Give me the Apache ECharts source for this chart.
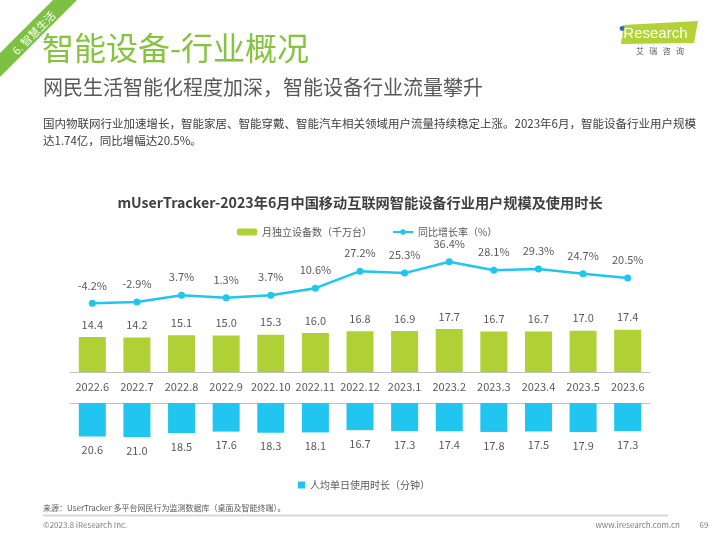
<!DOCTYPE html>
<html>
<head>
<meta charset="utf-8">
<script src="https://cdn.jsdelivr.net/npm/echarts@6/dist/echarts.min.js"></script>
<style>
html,body{margin:0;padding:0;background:#fff;}
#main{width:720px;height:540px;}
</style>
</head>
<body>
<div id="main"></div>
<script>
const categories = ['2022.6','2022.7','2022.8','2022.9','2022.10','2022.11','2022.12','2023.1','2023.2','2023.3','2023.4','2023.5','2023.6'];
const devices = [14.4,14.2,15.1,15.0,15.3,16.0,16.8,16.9,17.7,16.7,16.7,17.0,17.4];
const yoyGrowth = [-4.2,-2.9,3.7,1.3,3.7,10.6,27.2,25.3,36.4,28.1,29.3,24.7,20.5];
const dailyMinutes = [20.6,21.0,18.5,17.6,18.3,18.1,16.7,17.3,17.4,17.8,17.5,17.9,17.3];

const seriesNames = ['月独立设备数（千万台）','同比增长率（%）','人均单日使用时长（分钟）'];

const FONT = "'Noto Sans CJK SC', 'Noto Sans', sans-serif";
const GREEN = '#AFD136';
const CYAN = '#20C5F0';
const LABEL = '#595959';

const chart = echarts.init(document.getElementById('main'), null, {renderer:'canvas'});
const option = {
  backgroundColor: '#fff',
  animation: false,
  textStyle: {fontFamily: FONT},
  title: {
    text: 'mUserTracker-2023年6月中国移动互联网智能设备行业用户规模及使用时长',
    left: 'center', top: 191,
    textStyle: {fontSize: 14.2, fontWeight: 'bold', color: '#404040', fontFamily: FONT}
  },
  legend: [
    {
      data: [seriesNames[0], seriesNames[1]],
      left: 232, top: 222, itemGap: 20, itemWidth: 20, itemHeight: 7,
      textStyle: {fontSize: 10, color: LABEL, fontFamily: FONT}
    },
    {
      data: [{name: seriesNames[2], icon: 'rect'}],
      left: 293, top: 475, itemWidth: 7, itemHeight: 7, itemGap: 4,
      textStyle: {fontSize: 10, color: LABEL, fontFamily: FONT}
    }
  ],
  grid: [
    {left: 70, right: 70, top: 240, height: 132},
    {left: 70, right: 70, top: 403, height: 60}
  ],
  xAxis: [
    {
      type: 'category', gridIndex: 0, data: categories,
      axisLine: {lineStyle: {color: '#BFBFBF', width: 1}},
      axisTick: {show: false},
      axisLabel: {fontSize: 11, color: LABEL, margin: 9, interval: 0, fontFamily: FONT}
    },
    {
      type: 'category', gridIndex: 1, data: categories, position: 'top',
      axisLine: {lineStyle: {color: '#BFBFBF', width: 1}},
      axisTick: {show: false},
      axisLabel: {show: false}
    }
  ],
  yAxis: [
    {type: 'value', gridIndex: 0, min: 0, max: 54.3, show: false, splitLine: {show: false}},
    {type: 'value', gridIndex: 0, min: -71.2, max: 57.6, show: false, splitLine: {show: false}},
    {type: 'value', gridIndex: 1, min: 0, max: 36.9, inverse: true, show: false, splitLine: {show: false}}
  ],
  series: [
    {
      name: seriesNames[0], type: 'bar', xAxisIndex: 0, yAxisIndex: 0,
      data: devices, barWidth: 27, itemStyle: {color: GREEN},
      label: {show: true, position: 'top', distance: 7, fontSize: 11, color: LABEL,
        formatter: p => p.value.toFixed(1)}
    },
    {
      name: seriesNames[1], type: 'line', xAxisIndex: 0, yAxisIndex: 1,
      data: yoyGrowth, z: 5,
      lineStyle: {color: CYAN, width: 2.5},
      itemStyle: {color: CYAN},
      symbol: 'circle', symbolSize: 7,
      label: {show: true, position: 'top', distance: 9, fontSize: 11, color: LABEL,
        formatter: p => p.value.toFixed(1) + '%'}
    },
    {
      name: seriesNames[2], type: 'bar', xAxisIndex: 1, yAxisIndex: 2,
      data: dailyMinutes, barWidth: 27, itemStyle: {color: CYAN},
      label: {show: true, position: 'bottom', distance: 8, fontSize: 11, color: LABEL,
        formatter: p => p.value.toFixed(1)}
    }
  ],
  graphic: [
    {type: 'polygon', shape: {points: [[0,53],[53,0],[77,0],[0,77]]}, style: {fill: '#7DC142'}},
    {type: 'text', x: 34, y: 33, rotation: Math.PI/4, style: {text: '6. 智慧生活', fill: '#fff', fontSize: 11, fontFamily: FONT, align: 'center', verticalAlign: 'middle'}},
    {type: 'text', x: 42, y: 48, style: {text: '智能设备-行业概况', fill: '#86C440', fontSize: 32, fontFamily: FONT, verticalAlign: 'middle'}},
    {type: 'text', x: 43, y: 87, style: {text: '网民生活智能化程度加深，智能设备行业流量攀升', fill: '#595959', fontSize: 20, fontFamily: FONT, verticalAlign: 'middle'}},
    {type: 'text', x: 43, y: 124, style: {text: '国内物联网行业加速增长，智能家居、智能穿戴、智能汽车相关领域用户流量持续稳定上涨。2023年6月，智能设备行业用户规模', fill: '#404040', fontSize: 11.5, fontFamily: FONT, verticalAlign: 'middle'}},
    {type: 'text', x: 43, y: 141, style: {text: '达1.74亿，同比增幅达20.5%。', fill: '#404040', fontSize: 11.5, fontFamily: FONT, verticalAlign: 'middle'}},
    // logo
    {type: 'polygon', shape: {points: [[623,25],[698,21],[694,43],[621,44]]}, style: {fill: '#B2D235'}},
    {type: 'text', x: 620, y: 34, style: {text: 'iResearch', fill: '#fff', fontSize: 15, fontFamily: "'Liberation Sans', sans-serif", verticalAlign: 'middle'}},
    {type: 'circle', shape: {cx: 622, cy: 28.5, r: 2.4}, style: {fill: '#2E6DB4'}},
    {type: 'text', x: 660, y: 51, style: {text: '艾   瑞   咨   询', fill: '#595959', fontSize: 8, fontFamily: FONT, align: 'center', verticalAlign: 'middle'}},
    // footer
    {type: 'text', x: 43, y: 508, style: {text: '来源：UserTracker 多平台网民行为监测数据库（桌面及智能终端）。', fill: '#595959', fontSize: 8, fontFamily: FONT, verticalAlign: 'middle'}},
    {type: 'line', shape: {x1: 43, y1: 515.5, x2: 668, y2: 515.5}, style: {stroke: '#D9D9D9', lineWidth: 2}},
    {type: 'text', x: 43, y: 525, style: {text: '©2023.8 iResearch Inc.', fill: '#7F7F7F', fontSize: 8, fontFamily: FONT, verticalAlign: 'middle'}},
    {type: 'text', x: 680, y: 525, style: {text: 'www.iresearch.com.cn', fill: '#7F7F7F', fontSize: 8, fontFamily: FONT, align: 'right', verticalAlign: 'middle'}},
    {type: 'text', x: 704, y: 525, style: {text: '69', fill: '#7F7F7F', fontSize: 8, fontFamily: FONT, align: 'center', verticalAlign: 'middle'}}
  ]
};
chart.setOption(option);
</script>
</body>
</html>
